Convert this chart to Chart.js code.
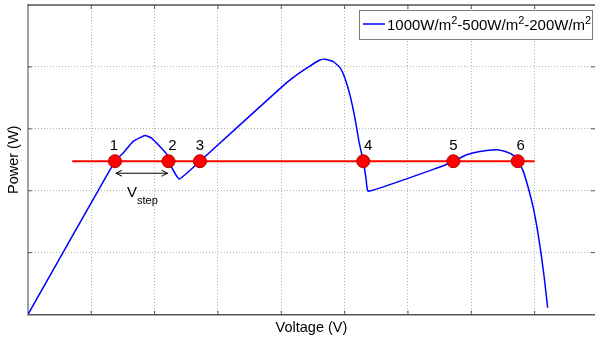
<!DOCTYPE html>
<html>
<head>
<meta charset="utf-8">
<script src="https://cdn.jsdelivr.net/npm/chart.js@4/dist/chart.umd.min.js"></script>
<style>
  html, body { margin: 0; padding: 0; background: #fff; overflow: hidden; }
  canvas { display: block; }
</style>
</head>
<body>
<canvas id="pvChart" width="595" height="342"></canvas>
<script>
// P-V curve under partial shading
var voltage = [0, 1.374, 1.505, 1.663, 1.847, 1.953, 2.084, 2.2, 2.22, 2.389,
  2.716, 3.979, 4.19, 4.401, 4.611, 4.69, 4.821, 4.927, 5.005, 5.084, 5.163, 5.226, 5.294,
  5.337, 5.373, 6.505, 6.716, 6.927, 7.137, 7.401, 7.559, 7.663, 7.733, 7.821, 7.9, 7.979,
  8.048, 8.1, 8.152, 8.206];
var power = [0, 2.477, 2.61, 2.797, 2.893, 2.851, 2.716, 2.582, 2.477, 2.19,
  2.477, 3.65, 3.83, 3.98, 4.112, 4.125, 4.086, 3.989, 3.818, 3.549, 3.174, 2.797, 2.477,
  2.207, 1.991, 2.384, 2.477, 2.582, 2.635, 2.663, 2.625, 2.571, 2.477, 2.313, 2.045, 1.723,
  1.346, 0.998, 0.595, 0.111];

var refPower = 2.477;
var refStart = 0.7;
var refEnd = 8.0;

var markVoltage = [1.374, 2.22, 2.716, 5.294, 6.716, 7.733];
var markLabels = ["1", "2", "3", "4", "5", "6"];

var legendText = "1000W/m²-500W/m²-200W/m²";

var blueData = voltage.map(function (v, i) { return {x: v, y: power[i]}; });
var redData = [{x: refStart, y: refPower}, {x: refEnd, y: refPower}];
var markData = markVoltage.map(function (v) { return {x: v, y: refPower}; });

var FONT = "Arial, 'Liberation Sans', sans-serif";

var extras = {
  id: "extras",
  afterDraw: function (chart) {
    var ctx = chart.ctx;
    var a = chart.chartArea;
    var xs = chart.scales.x, ys = chart.scales.y;
    ctx.save();

    // frame top + inward ticks
    ctx.strokeStyle = "#555";
    ctx.lineWidth = 1.5;
    ctx.beginPath();
    ctx.moveTo(a.left, a.top); ctx.lineTo(a.right, a.top);
    ctx.stroke();
    ctx.lineWidth = 1;
    ctx.beginPath();
    for (var i = 1; i < 9; i++) {
      var px = xs.getPixelForValue(i);
      ctx.moveTo(px, a.bottom); ctx.lineTo(px, a.bottom - 4);
      ctx.moveTo(px, a.top); ctx.lineTo(px, a.top + 4);
    }
    for (var j = 1; j < 5; j++) {
      var py = ys.getPixelForValue(j);
      ctx.moveTo(a.left, py); ctx.lineTo(a.left + 4, py);
      ctx.moveTo(a.right, py); ctx.lineTo(a.right - 4, py);
    }
    ctx.stroke();

    // point numbers
    var dx = [-1, 4, 0, 5, 0, 3];
    ctx.fillStyle = "#000";
    ctx.font = "15px " + FONT;
    ctx.textAlign = "center";
    ctx.textBaseline = "middle";
    markVoltage.forEach(function (v, k) {
      ctx.fillText(markLabels[k], xs.getPixelForValue(v) + dx[k], ys.getPixelForValue(refPower) - 15);
    });

    // V_step arrow between points 1 and 2
    var x1 = xs.getPixelForValue(markVoltage[0]) + 1;
    var x2 = xs.getPixelForValue(markVoltage[1]) - 1;
    var ya = ys.getPixelForValue(refPower) + 12;
    ctx.strokeStyle = "#000";
    ctx.lineWidth = 1;
    ctx.beginPath();
    ctx.moveTo(x1, ya); ctx.lineTo(x2, ya);
    ctx.moveTo(x1 + 6, ya - 3); ctx.lineTo(x1, ya); ctx.lineTo(x1 + 6, ya + 3);
    ctx.moveTo(x2 - 6, ya - 3); ctx.lineTo(x2, ya); ctx.lineTo(x2 - 6, ya + 3);
    ctx.stroke();
    ctx.textAlign = "left";
    ctx.textBaseline = "alphabetic";
    ctx.font = "15px " + FONT;
    ctx.fillText("V", 127, 197);
    ctx.font = "11px " + FONT;
    ctx.fillText("step", 137, 204);

    // legend box
    ctx.fillStyle = "#fff";
    ctx.fillRect(359, 10, 233, 29);
    ctx.strokeStyle = "#7f7f7f";
    ctx.lineWidth = 1;
    ctx.strokeRect(359.5, 10.5, 233, 29);
    ctx.strokeStyle = "#0000ff";
    ctx.lineWidth = 1.5;
    ctx.beginPath();
    ctx.moveTo(363, 24); ctx.lineTo(385, 24);
    ctx.stroke();
    ctx.fillStyle = "#000";
    var parts = legendText.split("²");
    var tx = 387;
    parts.forEach(function (p, k) {
      if (!p) return;
      ctx.font = "15px " + FONT;
      ctx.fillText(p, tx, 30);
      tx += ctx.measureText(p).width;
      if (k < parts.length - 1) {
        ctx.font = "11px " + FONT;
        ctx.fillText("2", tx, 24);
        tx += ctx.measureText("2").width;
      }
    });
    ctx.restore();
  }
};

var ctx = document.getElementById("pvChart").getContext("2d");
new Chart(ctx, {
  type: "scatter",
  data: {
    datasets: [
      {
        label: "points",
        data: markData,
        showLine: false,
        pointRadius: 6.5,
        pointBackgroundColor: "#ff0000",
        pointBorderColor: "#b00000",
        pointBorderWidth: 1
      },
      {
        label: "reference",
        data: redData,
        showLine: true,
        borderColor: "#ff0000",
        borderWidth: 2,
        pointRadius: 0
      },
      {
        label: legendText,
        data: blueData,
        showLine: true,
        borderColor: "#0000ff",
        borderWidth: 1.5,
        tension: 0.12,
        pointRadius: 0
      }
    ]
  },
  options: {
    responsive: false,
    devicePixelRatio: 1,
    animation: false,
    layout: { autoPadding: false, padding: { left: 0, top: 5, right: 0, bottom: 0 } },
    plugins: {
      legend: { display: false },
      tooltip: { enabled: false }
    },
    scales: {
      x: {
        type: "linear",
        min: 0,
        max: 8.953,
        ticks: { display: false, stepSize: 1 },
        grid: { color: "#b4b4b4", lineWidth: 1, drawTicks: false },
        border: { color: "#555", width: 1.5, dash: [1, 2] },
        title: {
          display: true,
          text: "Voltage (V)",
          color: "#000",
          font: { family: FONT, size: 14.5 },
          padding: { top: 5, bottom: 5 }
        }
      },
      y: {
        type: "linear",
        min: 0,
        max: 5,
        ticks: { display: false, stepSize: 1 },
        grid: { color: "#b4b4b4", lineWidth: 1, drawTicks: false },
        border: { color: "#a0a0a0", width: 2, dash: [1, 2] },
        title: {
          display: true,
          text: "Power (W)",
          color: "#000",
          font: { family: FONT, size: 14.5 },
          padding: { top: 5, bottom: 5.5 }
        }
      }
    }
  },
  plugins: [extras]
});
</script>
</body>
</html>
